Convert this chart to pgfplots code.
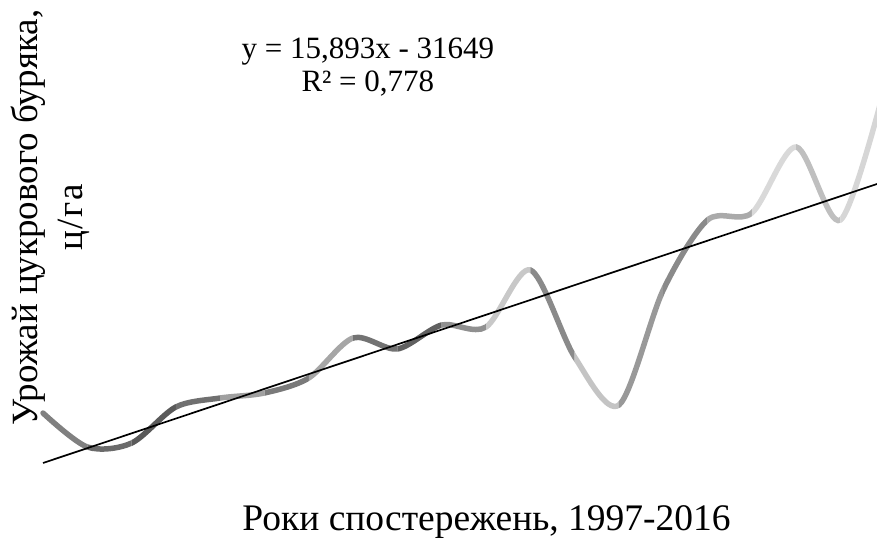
\documentclass[border=0pt]{standalone}
\usepackage{fontspec}
\setmainfont{Liberation Serif}
\usepackage{pgfplots}
\usepackage{pgfplotstable}
\pgfplotsset{compat=1.18}

\pgfplotstableread{
year yield
1997 142.9
1998 106.5
1999 110.7
2000 149.4
2001 159.0
2002 164.4
2003 180.5
2004 223.4
2005 211.6
2006 237.3
2007 235.1
2008 296.3
2009 203.0
2010 151.5
2011 274.8
2012 349.9
2013 357.4
2014 428.2
2015 349.9
2016 492.5
}\curvedata

\pgfplotstableread{
year trend
1997 89.32
2016 391.29
}\trenddata

\definecolor{g0}{HTML}{808080}
\definecolor{g1}{HTML}{6B6B6B}
\definecolor{g2}{HTML}{5A5A5A}
\definecolor{g3}{HTML}{707070}
\definecolor{g4}{HTML}{A0A0A0}
\definecolor{g5}{HTML}{7A7A7A}
\definecolor{g6}{HTML}{A6A6A6}
\definecolor{g7}{HTML}{737373}
\definecolor{g8}{HTML}{606060}
\definecolor{g9}{HTML}{909090}
\definecolor{g10}{HTML}{C8C8C8}
\definecolor{g11}{HTML}{8A8A8A}
\definecolor{g12}{HTML}{C4C4C4}
\definecolor{g13}{HTML}{999999}
\definecolor{g14}{HTML}{8A8A8A}
\definecolor{g15}{HTML}{AAAAAA}
\definecolor{g16}{HTML}{D9D9D9}
\definecolor{g17}{HTML}{BFBFBF}
\definecolor{g18}{HTML}{D6D6D6}

\newcommand{\seg}[3]{%
  \begin{scope}
    \clip (axis cs:#1,0) rectangle (axis cs:#2,700);
    \addplot[smooth, line width=5.5pt, line cap=round, draw=#3, no markers]
      table[x=year, y=yield] {\curvedata};
  \end{scope}}

\begin{document}
\begin{tikzpicture}
\begin{axis}[
  at={(0,0)}, anchor=south west,
  scale only axis,
  width=841.7pt, height=484.9pt,
  xmin=1997, xmax=2016, ymin=70, ymax=590,
  axis line style={draw=none},
  xtick=\empty, ytick=\empty,
  clip=false,
  xlabel={Роки спостережень, 1997-2016},
  ylabel={Урожай цукрового буряка,\\{\addfontfeature{LetterSpace=5}ц/га}},
  xlabel style={at={(axis description cs:0.527,-0.084)}, anchor=center,
    font=\fontsize{37.5}{42}\selectfont},
  ylabel style={at={(axis description cs:0.0084,0.544)}, anchor=center,
    align=center, font=\fontsize{37}{45}\selectfont},
]
\seg{1996.5}{1998}{g0}
\seg{1998}{1999}{g1}
\seg{1999}{2000}{g2}
\seg{2000}{2001}{g3}
\seg{2001}{2002}{g4}
\seg{2002}{2003}{g5}
\seg{2003}{2004}{g6}
\seg{2004}{2005}{g7}
\seg{2005}{2006}{g8}
\seg{2006}{2007}{g9}
\seg{2007}{2008}{g10}
\seg{2008}{2009}{g11}
\seg{2009}{2010}{g12}
\seg{2010}{2011}{g13}
\seg{2011}{2012}{g14}
\seg{2012}{2013}{g15}
\seg{2013}{2014}{g16}
\seg{2014}{2015}{g17}
\seg{2015}{2016.5}{g18}
\addplot[black, line width=1.7pt, no markers] table[x=year, y=trend] {\trenddata};
\node[align=center, font=\fontsize{31}{33}\selectfont] at (axis description cs:0.386,0.854)
  {y = 15,893x - 31649\\R² = 0,778};
\end{axis}
\pgfresetboundingbox
\useasboundingbox (-43pt,-61pt) rectangle (834pt,481pt);
\end{tikzpicture}
\end{document}
